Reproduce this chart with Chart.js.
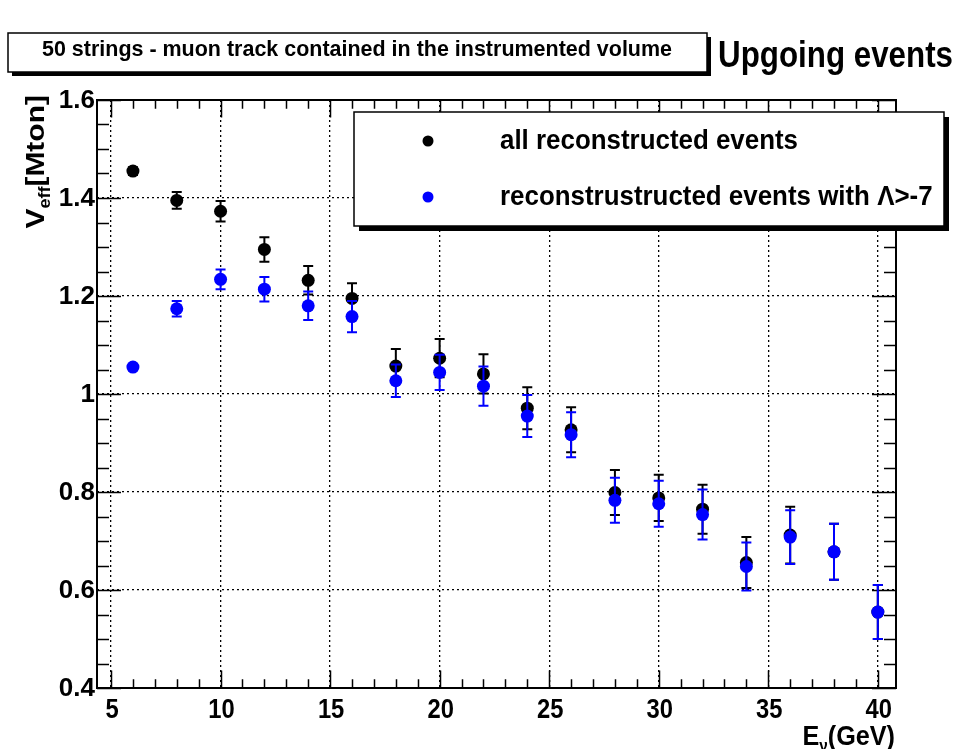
<!DOCTYPE html>
<html>
<head>
<meta charset="utf-8">
<script src="https://cdn.jsdelivr.net/npm/chart.js@4/dist/chart.umd.min.js"></script>
<style>
  html, body { margin: 0; padding: 0; background: #fff; }
  #wrap { width: 959px; height: 749px; }
</style>
</head>
<body>
<div id="wrap"><canvas id="c" width="959" height="749"></canvas></div>
<script>
// Neutrino energy bins (GeV)
const energies = [6, 8, 10, 12, 14, 16, 18, 20, 22, 24, 26, 28, 30, 32, 34, 36, 38, 40];

// Effective volume, all reconstructed events (Mton) and its errors
const vAll   = [1.455, 1.395, 1.373, 1.295, 1.232, 1.195, 1.057, 1.073, 1.041, 0.971, 0.927, 0.799, 0.788, 0.765, 0.656, 0.712, 0.678, 0.555];
const errAll = [0.008, 0.017, 0.021, 0.025, 0.029, 0.031, 0.035, 0.039, 0.040, 0.043, 0.046, 0.046, 0.047, 0.050, 0.052, 0.058, 0.057, 0.055];

// Effective volume after the Lambda > -7 quality cut (Mton) and its errors
const vCut   = [1.055, 1.174, 1.234, 1.214, 1.180, 1.158, 1.027, 1.044, 1.016, 0.955, 0.917, 0.783, 0.776, 0.754, 0.648, 0.708, 0.678, 0.555];
const errCut = [0.006, 0.016, 0.020, 0.025, 0.029, 0.032, 0.033, 0.036, 0.040, 0.043, 0.046, 0.046, 0.047, 0.051, 0.049, 0.055, 0.057, 0.055];

// Axis ticks and labels
const xMajorTicks = [5, 10, 15, 20, 25, 30, 35, 40];
const xTickLabels = ['5', '10', '15', '20', '25', '30', '35', '40'];
const yMajorTicks = [0.4, 0.6, 0.8, 1.0, 1.2, 1.4, 1.6];
const yTickLabels = ['0.4', '0.6', '0.8', '1', '1.2', '1.4', '1.6'];

// Texts
const labelAll = 'all reconstructed events';
const labelCut = 'reconstrustructed events with \u039B>-7';
const headerText = '50 strings - muon track contained in the instrumented volume';
const sideTitle = 'Upgoing events';

const FONT = '"Liberation Sans", Arial, Helvetica, sans-serif';

function drawText(ctx, s, x, y, size, align, sx, baseline) {
  ctx.save();
  ctx.font = 'bold ' + size + 'px ' + FONT;
  ctx.textBaseline = baseline || 'middle';
  ctx.textAlign = align;
  ctx.translate(x, y);
  ctx.scale(sx, 1);
  ctx.fillStyle = '#000';
  ctx.fillText(s, 0, 0);
  ctx.restore();
}

function fitScale(ctx, s, size, width) {
  ctx.save();
  ctx.font = 'bold ' + size + 'px ' + FONT;
  const w = ctx.measureText(s).width;
  ctx.restore();
  return width / w;
}

// Vertical error bars with end caps, drawn just before each dataset's markers
const errorBars = {
  id: 'errorBars',
  beforeDatasetDraw(chart, args) {
    const ds = chart.data.datasets[args.index];
    const ys = chart.scales.y;
    const c = chart.ctx;
    c.save();
    c.strokeStyle = ds.borderColor;
    c.lineWidth = 2;
    args.meta.data.forEach((pt, i) => {
      const v = ds.data[i].y, e = ds.errors[i];
      const x = pt.x;
      const yt = ys.getPixelForValue(v + e);
      const yb = ys.getPixelForValue(v - e);
      c.beginPath();
      c.moveTo(x, yt); c.lineTo(x, yb);
      c.moveTo(x - 5, yt); c.lineTo(x + 5, yt);
      c.moveTo(x - 5, yb); c.lineTo(x + 5, yb);
      c.stroke();
    });
    c.restore();
  }
};

// Frame with inward major/minor ticks on all four sides
const frame = {
  id: 'frame',
  beforeDatasetsDraw(chart) {
    const c = chart.ctx;
    const { left, right, top, bottom } = chart.chartArea;
    const xs = chart.scales.x, ys = chart.scales.y;
    c.save();
    c.strokeStyle = '#000';
    c.lineWidth = 1.5;
    c.beginPath();
    for (let v = 5; v <= 40; v++) {
      const px = Math.round(xs.getPixelForValue(v)) + 0.5;
      const len = (v % 5 === 0) ? 17.6 : 8.8;
      c.moveTo(px, bottom); c.lineTo(px, bottom - len);
      c.moveTo(px, top); c.lineTo(px, top + len);
    }
    for (let k = 0; k <= 24; k++) {
      const py = Math.round(ys.getPixelForValue(0.4 + 0.05 * k)) + 0.5;
      const len = (k % 4 === 0) ? 24 : 12;
      c.moveTo(left, py); c.lineTo(left + len, py);
      c.moveTo(right, py); c.lineTo(right - len, py);
    }
    c.stroke();
    c.lineWidth = 2;
    c.strokeRect(left, top, right - left, bottom - top);
    c.restore();
  }
};

// Tick labels, axis titles, header boxes and legend
const annotations = {
  id: 'annotations',
  afterDraw(chart) {
    const c = chart.ctx;
    const xs = chart.scales.x, ys = chart.scales.y;
    const { left, right, top, bottom } = chart.chartArea;

    // tick labels
    xMajorTicks.forEach((v, i) => {
      drawText(c, xTickLabels[i], xs.getPixelForValue(v) + 1, bottom + 23, 27, 'center', 0.88);
    });
    yMajorTicks.forEach((v, i) => {
      drawText(c, yTickLabels[i], left - 2, ys.getPixelForValue(v) + 1, 26, 'right', 1.0);
    });

    // x-axis title  E_nu(GeV), right aligned at the frame edge
    c.save();
    c.fillStyle = '#000';
    c.textBaseline = 'alphabetic';
    const big = 'bold 28px ' + FONT, small = 'bold 17px ' + FONT;
    c.font = big; const wE = c.measureText('E').width; const wG = c.measureText('(GeV)').width;
    c.font = small; const wN = c.measureText('\u03BD').width;
    const sxT = 0.9;
    let x0 = right - 1 - (wE + wN + wG) * sxT;
    c.translate(x0, 745);
    c.scale(sxT, 1);
    c.font = big; c.fillText('E', 0, 0);
    c.font = small; c.fillText('\u03BD', wE, 6);
    c.font = big; c.fillText('(GeV)', wE + wN, 0);
    c.restore();

    // y-axis title  V_eff[Mton], rotated, ending at the top of the frame
    c.save();
    c.fillStyle = '#000';
    c.textBaseline = 'alphabetic';
    const bigY = 'bold 30px ' + FONT, smallY = 'bold 18px ' + FONT;
    c.font = bigY; const wV = c.measureText('V').width; const wM = c.measureText('[Mton]').width;
    c.font = smallY; const wF = c.measureText('eff').width;
    c.translate(44, 95);
    c.rotate(-Math.PI / 2);
    c.scale(1, 0.88);
    const start = -(wV + wF + wM);
    c.font = bigY; c.fillText('V', start, 0);
    c.font = smallY; c.fillText('eff', start + wV, 7);
    c.font = bigY; c.fillText('[Mton]', start + wV + wF, 0);
    c.restore();

    // header box with shadow
    c.save();
    c.fillStyle = '#000';
    c.fillRect(12, 37, 699, 39);
    c.fillStyle = '#fff';
    c.fillRect(8, 33, 699, 39);
    c.strokeStyle = '#000';
    c.lineWidth = 1.5;
    c.strokeRect(8, 33, 699, 39);
    c.restore();
    drawText(c, headerText, 357, 50, 22, 'center', fitScale(c, headerText, 22, 630));

    drawText(c, sideTitle, 718, 57, 36, 'left', fitScale(c, sideTitle, 36, 235));

    // legend box with shadow
    c.save();
    c.fillStyle = '#000';
    c.fillRect(359, 117, 590, 114);
    c.fillStyle = '#fff';
    c.fillRect(354, 112, 590, 114);
    c.strokeStyle = '#000';
    c.lineWidth = 1.5;
    c.strokeRect(354, 112, 590, 114);
    const rows = [{ ds: chart.data.datasets[0], y: 141 }, { ds: chart.data.datasets[1], y: 197 }];
    const sxLeg = fitScale(c, labelAll, 27, 298);
    rows.forEach(r => {
      c.fillStyle = r.ds.backgroundColor;
      c.beginPath();
      c.arc(428, r.y, 5.5, 0, Math.PI * 2);
      c.fill();
      drawText(c, r.ds.label, 500, r.y + 1, 27, 'left', sxLeg);
    });
    c.restore();
  }
};

const ctx = document.getElementById('c').getContext('2d');
new Chart(ctx, {
  type: 'scatter',
  data: {
    datasets: [
      {
        label: labelAll,
        data: energies.map((x, i) => ({ x: x, y: vAll[i] })),
        errors: errAll,
        backgroundColor: '#000000',
        borderColor: '#000000',
        pointRadius: 6.5,
        pointHoverRadius: 6.5,
        borderWidth: 0,
        order: 2
      },
      {
        label: labelCut,
        data: energies.map((x, i) => ({ x: x, y: vCut[i] })),
        errors: errCut,
        backgroundColor: '#0000ff',
        borderColor: '#0000ff',
        pointRadius: 6.5,
        pointHoverRadius: 6.5,
        borderWidth: 0,
        order: 1
      }
    ]
  },
  options: {
    responsive: false,
    animation: false,
    events: [],
    layout: { padding: { left: 97, top: 100, right: 63, bottom: 61 } },
    plugins: { legend: { display: false }, tooltip: { enabled: false } },
    scales: {
      x: {
        type: 'linear',
        min: 4.36,
        max: 40.83,
        afterBuildTicks: s => { s.ticks = xMajorTicks.map(v => ({ value: v })); },
        afterFit: s => { s.height = 0; },
        ticks: { display: false },
        grid: { drawTicks: false, color: '#000', lineWidth: 1.3 },
        border: { display: false, dash: [2, 3] }
      },
      y: {
        type: 'linear',
        min: 0.4,
        max: 1.6,
        afterBuildTicks: s => { s.ticks = yMajorTicks.map(v => ({ value: v })); },
        afterFit: s => { s.width = 0; },
        ticks: { display: false },
        grid: { drawTicks: false, color: '#000', lineWidth: 1.3 },
        border: { display: false, dash: [2, 3] }
      }
    }
  },
  plugins: [errorBars, frame, annotations]
});
</script>
</body>
</html>
